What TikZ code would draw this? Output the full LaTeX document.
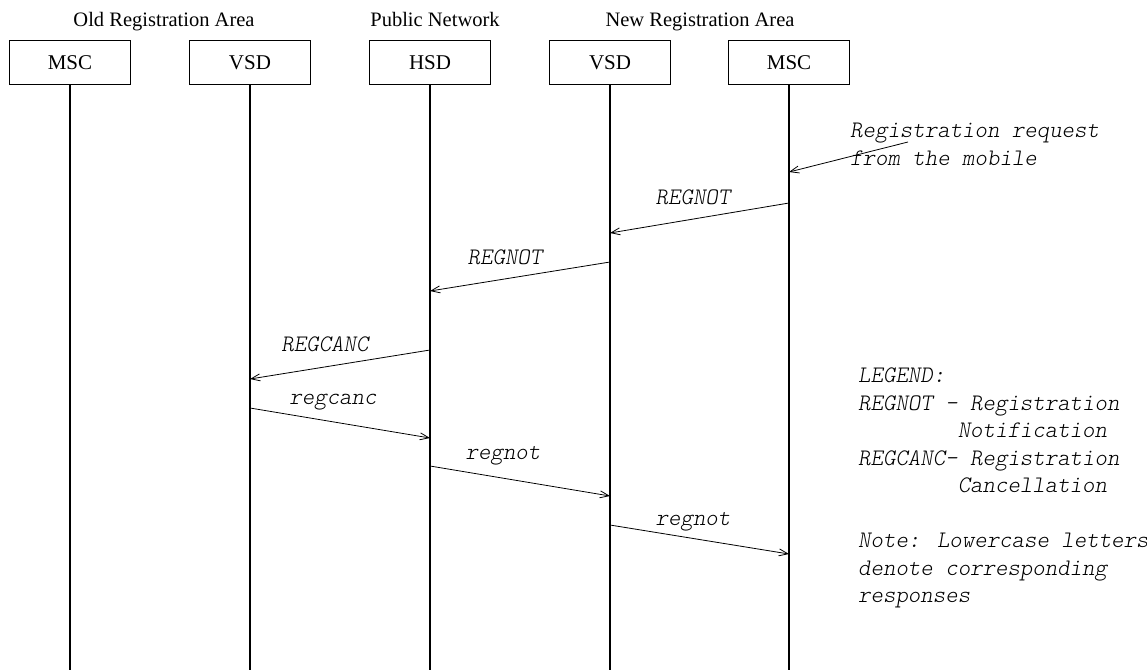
\documentclass[tikz,border=0pt]{standalone}
\usepackage{fontspec}
\setmainfont{Liberation Serif}
\newfontfamily\msgfont{lmmonolt10-oblique.otf}
\usetikzlibrary{arrows.meta}

\begin{document}
\begin{tikzpicture}[x=1pt,y=-1pt,
  entity/.style={draw, line width=1.3pt, minimum width=121pt, minimum height=44pt,
    inner sep=0pt, font=\fontsize{21}{24}\selectfont},
  header/.style={font=\fontsize{20.5}{24}\selectfont, inner sep=0pt, anchor=base},
  life/.style={line width=1.8pt},
  msg/.style={line width=0.8pt, -{Straight Barb[length=9pt,width=7pt,line width=0.8pt]}},
  mlabel/.style={font=\fontsize{23.7}{27.5}\selectfont\msgfont, inner sep=0pt},
  note/.style={font=\fontsize{23.7}{27.5}\selectfont\msgfont, inner sep=0pt,
    align=left, anchor=north west}]
\useasboundingbox (0,0) rectangle (1147,670);

% area headings
\node[header] (hold) at (164,26) {Old Registration Area};
\node[header] (hpub) at (435,26) {Public Network};
\node[header] (hnew) at (700,26) {New Registration Area};

% entities
\node[entity] (msc1) at (70,62.5) {MSC};
\node[entity] (vsd1) at (250,62.5) {VSD};
\node[entity] (hsd)  at (430,62.5) {HSD};
\node[entity] (vsd2) at (610,62.5) {VSD};
\node[entity] (msc2) at (789,62.5) {MSC};

% lifelines
\foreach \n in {msc1,vsd1,hsd,vsd2,msc2}
  \draw[life] (\n.south) -- (\n |- 0,670);

% registration request from the mobile
\coordinate (mob) at (908,142);
\draw[msg] (mob) -- (msc2 |- 0,172);
\node[note] (req) at (850,123) {Registration request\\from the mobile};

% messages
\draw[msg] (msc2 |- 0,203) -- (vsd2 |- 0,233);
\node[mlabel] (l1) at (693,197) {REGNOT};
\draw[msg] (vsd2 |- 0,262) -- (hsd |- 0,291);
\node[mlabel] (l2) at (505,257) {REGNOT};
\draw[msg] (hsd |- 0,350) -- (vsd1 |- 0,379);
\node[mlabel] (l3) at (325,344) {REGCANC};
\draw[msg] (vsd1 |- 0,408) -- (hsd |- 0,438);
\node[mlabel] (l4) at (333,402) {regcanc};
\draw[msg] (hsd |- 0,466) -- (vsd2 |- 0,496);
\node[mlabel] (l5) at (503,456) {regnot};
\draw[msg] (vsd2 |- 0,525) -- (msc2 |- 0,554);
\node[mlabel] (l6) at (693,522) {regnot};

% legend
\node[note] (legend) at (858,368) {LEGEND:\\
REGNOT - Registration\\
\phantom{REGCANC-}Notification\\
REGCANC- Registration\\
\phantom{REGCANC-}Cancellation\\
\mbox{}\\
Note: Lowercase letters\\
denote corresponding\\
responses};
\end{tikzpicture}
\end{document}
